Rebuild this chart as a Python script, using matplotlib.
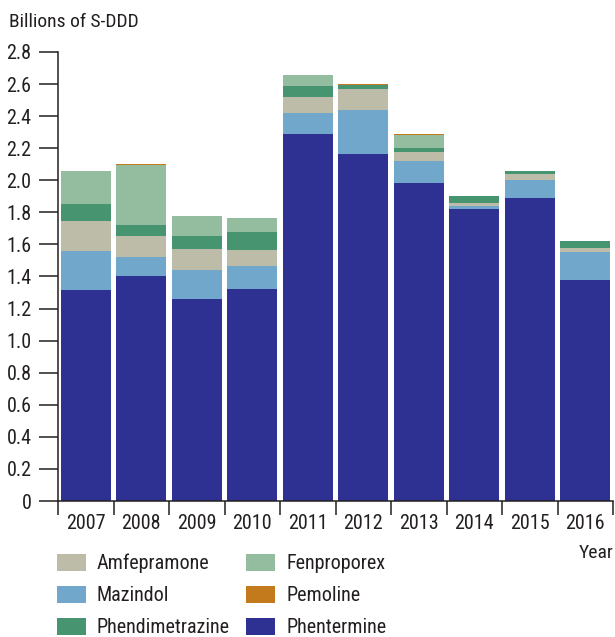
import numpy as np
import matplotlib.pyplot as plt
from matplotlib.patches import Patch

plt.rcParams['font.family'] = ['Roboto Condensed', 'DejaVu Sans']

years = ['2007', '2008', '2009', '2010', '2011', '2012', '2013', '2014', '2015', '2016']

# billions of S-DDD, stacked bottom to top
phentermine = [1.315, 1.40, 1.26, 1.32, 2.288, 2.163, 1.983, 1.82, 1.889, 1.378]
mazindol = [0.245, 0.12, 0.18, 0.145, 0.131, 0.277, 0.137, 0.02, 0.111, 0.172]
amfepramone = [0.185, 0.13, 0.13, 0.10, 0.10, 0.13, 0.056, 0.018, 0.04, 0.03]
phendimetrazine = [0.105, 0.07, 0.08, 0.112, 0.068, 0.024, 0.024, 0.042, 0.017, 0.04]
fenproporex = [0.21, 0.375, 0.13, 0.087, 0.069, 0.0, 0.08, 0.0, 0.0, 0.0]
pemoline = [0.0, 0.006, 0.0, 0.0, 0.0, 0.007, 0.008, 0.0, 0.0, 0.0]

series = [
    ('Phentermine', phentermine, '#2e3192'),
    ('Mazindol', mazindol, '#71a7ca'),
    ('Amfepramone', amfepramone, '#bdbca8'),
    ('Phendimetrazine', phendimetrazine, '#479470'),
    ('Fenproporex', fenproporex, '#94bda0'),
    ('Pemoline', pemoline, '#c27a1d'),
]
colors = {name: c for name, _, c in series}

fig = plt.figure(figsize=(6.15, 6.37), dpi=100)
ax = fig.add_axes([0.0943, 0.2135, 0.9027, 0.7049])

x = np.arange(len(years))
bottom = np.zeros(len(years))
for name, vals, c in series:
    ax.bar(x, vals, width=0.9, bottom=bottom, color=c, linewidth=0)
    bottom += np.array(vals)

ax.set_xlim(-0.5, len(years) - 0.5)
ax.set_ylim(0, 2.8)
yt = np.arange(0, 2.81, 0.2)
ax.set_yticks(yt)
ax.set_yticklabels(['0'] + ['%.1f' % v for v in yt[1:]], fontsize=14.5, color='#231f20')
ax.tick_params(axis='y', length=14, width=1.1, color='#231f20', pad=5)

ax.set_xticks(x)
ax.set_xticklabels(years, fontsize=14.5, color='#231f20')
ax.set_xticks(np.arange(-0.5, len(years)), minor=True)
ax.tick_params(axis='x', which='major', length=0, pad=9)
ax.tick_params(axis='x', which='minor', length=10, width=1.1, color='#231f20')

for s in ['top', 'right']:
    ax.spines[s].set_visible(False)
for s in ['left', 'bottom']:
    ax.spines[s].set_linewidth(1.1)
    ax.spines[s].set_color('#231f20')

fig.text(0.014, 0.965, 'Billions of S-DDD', fontsize=14, color='#231f20', va='center')
fig.text(0.998, 0.132, 'Year', fontsize=14, color='#231f20', ha='right', va='center')

order = ['Amfepramone', 'Mazindol', 'Phendimetrazine', 'Fenproporex', 'Pemoline', 'Phentermine']
handles = [Patch(facecolor=colors[n], edgecolor='none', label=n) for n in order]
fig.legend(handles=handles, ncol=2, loc='upper left', bbox_to_anchor=(0.092, 0.131),
           frameon=False, fontsize=14.5, handlelength=1.45, handleheight=0.95,
           handletextpad=0.55, columnspacing=0.8, labelspacing=0.62,
           borderaxespad=0, borderpad=0, labelcolor='#231f20')

plt.savefig('out.png', dpi=100)
